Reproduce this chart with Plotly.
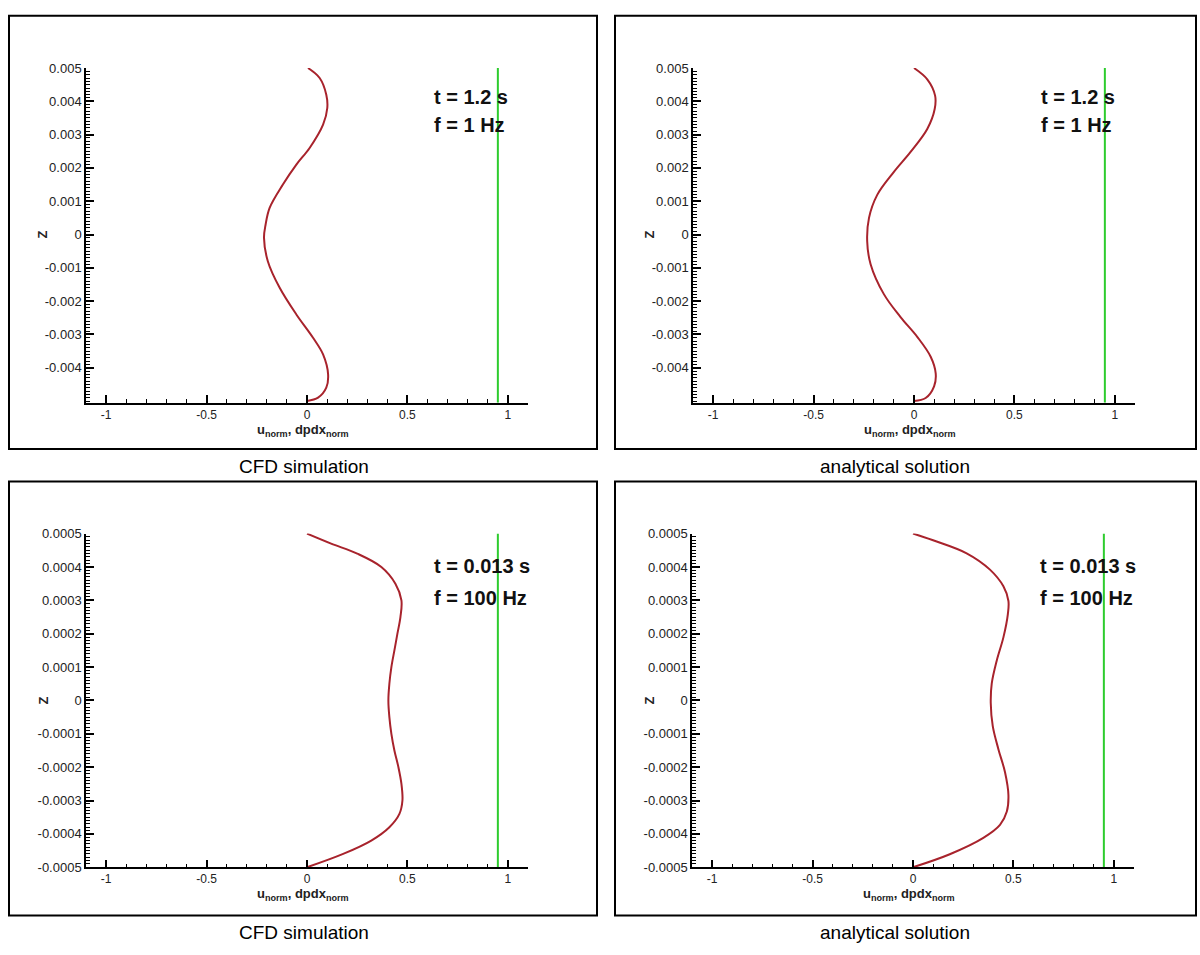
import plotly.graph_objects as go

W, H = 1200, 955

# ---------------- data ----------------
# top-left: CFD simulation, f = 1 Hz
z_cfd_1hz = [0.005, 0.0047, 0.0042, 0.0038, 0.0033, 0.0026, 0.0021, 0.0015, 0.0008, 0.0003,
             -0.0001, -0.0008, -0.0016, -0.0024, -0.0031, -0.0036, -0.0042, -0.0046, -0.0049, -0.005]
u_cfd_1hz = [0.005, 0.063, 0.096, 0.101, 0.08, 0.013, -0.053, -0.12, -0.186, -0.206,
             -0.214, -0.195, -0.136, -0.053, 0.03, 0.08, 0.105, 0.096, 0.055, 0.0]

# top-right: analytical solution, f = 1 Hz
z_ana_1hz = [0.005, 0.00466, 0.00417, 0.00377, 0.00317, 0.00248, 0.00188, 0.00119, 0.0005, -0.0002,
             -0.00089, -0.00179, -0.00248, -0.00308, -0.00367, -0.00417, -0.00456, -0.00491, -0.005]
u_ana_1hz = [0.0, 0.066, 0.105, 0.103, 0.066, -0.017, -0.1, -0.183, -0.224, -0.233,
             -0.216, -0.15, -0.067, 0.017, 0.083, 0.108, 0.1, 0.058, 0.0]

# bottom-left: CFD simulation, f = 100 Hz
z_cfd_100hz = [0.0005, 0.00047, 0.00044, 0.0004, 0.00035, 0.0003, 0.00025, 0.0002, 0.00015, 0.0001,
               0.00005, 0.0, -0.00005, -0.0001, -0.00015, -0.0002, -0.00025, -0.0003, -0.00034,
               -0.00038, -0.00042, -0.00046, -0.0005]
u_cfd_100hz = [0.0, 0.12, 0.25, 0.37, 0.44, 0.47, 0.465, 0.45, 0.435, 0.42,
               0.41, 0.405, 0.41, 0.42, 0.435, 0.455, 0.47, 0.475, 0.46,
               0.41, 0.32, 0.18, 0.0]

# bottom-right: analytical solution, f = 100 Hz
z_ana_100hz = [0.0005, 0.00048, 0.000441, 0.000392, 0.000342, 0.000298, 0.000258, 0.000189, 0.00012,
               0.000051, -0.000008, -0.000077, -0.000146, -0.000215, -0.000284, -0.000333,
               -0.000373, -0.000412, -0.000461, -0.0005]
u_ana_100hz = [0.0, 0.1, 0.267, 0.383, 0.45, 0.475, 0.472, 0.45, 0.417,
               0.392, 0.387, 0.397, 0.425, 0.458, 0.475, 0.467,
               0.433, 0.35, 0.183, 0.0]

# pressure-gradient line (dpdx_norm)
dpdx_value = 0.95

x_tickvals = [-1, -0.5, 0, 0.5, 1]
x_ticktext = ["-1", "-0.5", "0", "0.5", "1"]
y_tickvals_top = [-0.004, -0.003, -0.002, -0.001, 0, 0.001, 0.002, 0.003, 0.004, 0.005]
y_ticktext_top = ["-0.004", "-0.003", "-0.002", "-0.001", "0", "0.001", "0.002", "0.003", "0.004", "0.005"]
y_tickvals_bot = [-0.0005, -0.0004, -0.0003, -0.0002, -0.0001, 0, 0.0001, 0.0002, 0.0003, 0.0004, 0.0005]
y_ticktext_bot = ["-0.0005", "-0.0004", "-0.0003", "-0.0002", "-0.0001", "0",
                  "0.0001", "0.0002", "0.0003", "0.0004", "0.0005"]

captions = ["CFD simulation", "analytical solution", "CFD simulation", "analytical solution"]
time_labels = ["t = 1.2 s", "t = 1.2 s", "t = 0.013 s", "t = 0.013 s"]
freq_labels = ["f = 1 Hz", "f = 1 Hz", "f = 100 Hz", "f = 100 Hz"]

# ---------------- layout helpers ----------------
def px(x):
    return x / W

def py(y):
    return 1 - y / H

CURVE = "#A8232C"
GREEN = "#2ECC2E"
FONT = "Arial, Liberation Sans, sans-serif"

panels = [
    dict(u=u_cfd_1hz, z=z_cfd_1hz, xpx=(86, 528), ypx=(62, 402), yr=(-0.00505, 0.005),
         tv=y_tickvals_top, tt=y_ticktext_top, minor=0.0001,
         frame=(9, 9, 597, 449), cap=(304, 467), txt=(0.62, 0.00412, 0.00330)),
    dict(u=u_ana_1hz, z=z_ana_1hz, xpx=(693, 1135), ypx=(62, 402), yr=(-0.00505, 0.005),
         tv=y_tickvals_top, tt=y_ticktext_top, minor=0.0001,
         frame=(615, 9, 1196, 449), cap=(895, 467), txt=(0.62, 0.00412, 0.00330)),
    dict(u=u_cfd_100hz, z=z_cfd_100hz, xpx=(86, 528), ypx=(535, 874), yr=(-0.0005, 0.0005),
         tv=y_tickvals_bot, tt=y_ticktext_bot, minor=0.00001,
         frame=(9, 482, 597, 923), cap=(304, 940), txt=(0.62, 0.000402, 0.000306)),
    dict(u=u_ana_100hz, z=z_ana_100hz, xpx=(692, 1134), ypx=(535, 874), yr=(-0.0005, 0.0005),
         tv=y_tickvals_bot, tt=y_ticktext_bot, minor=0.00001,
         frame=(615, 482, 1196, 923), cap=(895, 940), txt=(0.62, 0.000402, 0.000306)),
]

fig = go.Figure()
layout = dict(
    width=W, height=H,
    margin=dict(l=0, r=0, t=0, b=0),
    paper_bgcolor="white", plot_bgcolor="white",
    showlegend=False,
    font=dict(family=FONT, size=13, color="#222222"),
)
annotations = []
shapes = []

for i, p in enumerate(panels):
    n = i + 1
    xa = "x" if n == 1 else f"x{n}"
    ya = "y" if n == 1 else f"y{n}"
    xkey = "xaxis" if n == 1 else f"xaxis{n}"
    ykey = "yaxis" if n == 1 else f"yaxis{n}"

    fig.add_trace(go.Scatter(x=p["u"], y=p["z"], mode="lines",
                             line=dict(color=CURVE, width=2, shape="spline", smoothing=1.0),
                             xaxis=xa, yaxis=ya, hoverinfo="skip"))
    fig.add_trace(go.Scatter(x=[dpdx_value, dpdx_value], y=[p["yr"][1], p["yr"][0]], mode="lines",
                             line=dict(color=GREEN, width=2),
                             xaxis=xa, yaxis=ya, hoverinfo="skip"))

    layout[xkey] = dict(
        domain=[px(p["xpx"][0]), px(p["xpx"][1])],
        anchor=ya, range=[-1.1, 1.1],
        tickmode="array", tickvals=x_tickvals, ticktext=x_ticktext,
        ticks="inside", ticklen=8, tickwidth=1.5, tickcolor="black",
        minor=dict(ticks="inside", tick0=0, dtick=0.1, ticklen=4, tickcolor="black", tickwidth=1),
        showline=True, linecolor="black", linewidth=1.5,
        showgrid=False, zeroline=False,
        tickfont=dict(size=12, family=FONT, color="#222222"),
        fixedrange=True,
    )
    layout[ykey] = dict(
        domain=[py(p["ypx"][1]), py(p["ypx"][0])],
        anchor=xa, range=list(p["yr"]),
        tickmode="array", tickvals=p["tv"], ticktext=p["tt"],
        ticks="inside", ticklen=8, tickwidth=1.5, tickcolor="black",
        minor=dict(ticks="inside", tick0=0, dtick=p["minor"], ticklen=4, tickcolor="black", tickwidth=1),
        showline=True, linecolor="black", linewidth=1.5,
        showgrid=False, zeroline=False,
        tickfont=dict(size=13, family=FONT, color="#222222"),
        fixedrange=True,
    )

    # axis titles
    xc = (p["xpx"][0] + p["xpx"][1]) / 2
    annotations.append(dict(
        x=px(xc - 4), y=py(p["ypx"][1] + 28), xref="paper", yref="paper",
        text="<b>u<sub>norm</sub>, dpdx<sub>norm</sub></b>", showarrow=False,
        xanchor="center", yanchor="middle",
        font=dict(size=13, family=FONT, color="#222222")))
    y0px = p["ypx"][0] + (p["ypx"][1] - p["ypx"][0]) * (p["yr"][1] - 0) / (p["yr"][1] - p["yr"][0])
    annotations.append(dict(
        x=px(p["xpx"][0] - 43), y=py(y0px), xref="paper", yref="paper",
        text="<b>Z</b>", showarrow=False, textangle=-90,
        xanchor="center", yanchor="middle",
        font=dict(size=13, family=FONT, color="#222222")))

    # time / frequency labels
    tx, ty1, ty2 = p["txt"]
    for lab, yy in ((time_labels[i], ty1), (freq_labels[i], ty2)):
        annotations.append(dict(
            x=tx, y=yy, xref=xa, yref=ya, text=f"<b>{lab}</b>", showarrow=False,
            xanchor="left", yanchor="middle",
            font=dict(size=20, family=FONT, color="#111111")))

    # caption
    annotations.append(dict(
        x=px(p["cap"][0]), y=py(p["cap"][1]), xref="paper", yref="paper",
        text=captions[i], showarrow=False, xanchor="center", yanchor="middle",
        font=dict(size=19, family=FONT, color="black")))

    # panel frame
    fx0, fy0, fx1, fy1 = p["frame"]
    shapes.append(dict(type="rect", xref="paper", yref="paper",
                       x0=px(fx0), x1=px(fx1), y0=py(fy1), y1=py(fy0),
                       line=dict(color="black", width=2), fillcolor="rgba(0,0,0,0)"))

layout["annotations"] = annotations
layout["shapes"] = shapes
fig.update_layout(**layout)

fig.write_html("out.html", config={"displayModeBar": False})
